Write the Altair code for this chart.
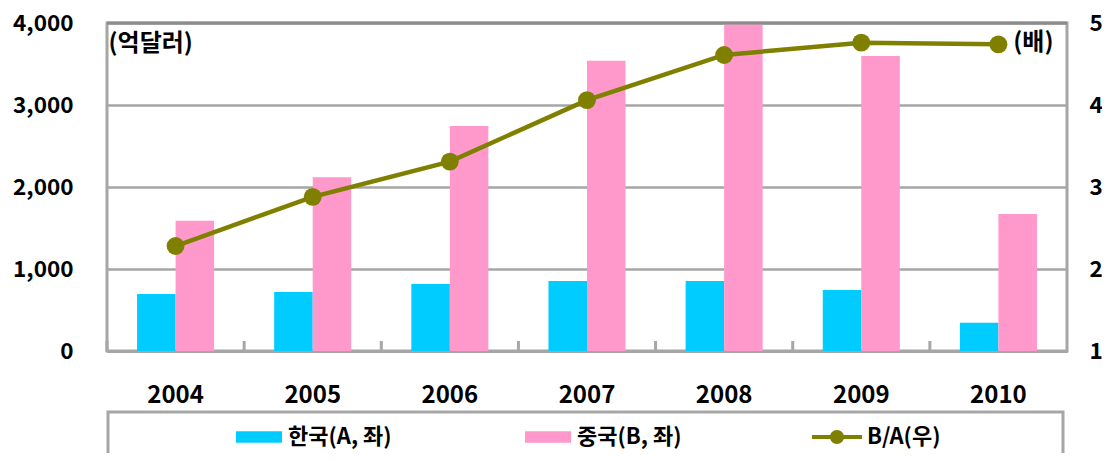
import altair as alt
import pandas as pd

years = ["2004", "2005", "2006", "2007", "2008", "2009", "2010"]
korea = [695, 720, 817, 854, 854, 744, 345]
china = [1589, 2118, 2744, 3540, 3985, 3598, 1671]
ratio = [2.28, 2.88, 3.31, 4.06, 4.61, 4.76, 4.74]
series_names = ["한국(A, 좌)", "중국(B, 좌)"]
ratio_name = "B/A(우)"
left_ticks = [0, 1000, 2000, 3000, 4000]
right_ticks = [1, 2, 3, 4, 5]

bars_df = pd.DataFrame({
    "year": years * 2,
    "series": [series_names[0]] * len(years) + [series_names[1]] * len(years),
    "value": korea + china,
})
ratio_df = pd.DataFrame({"year": years, "ratio": ratio, "name": ratio_name})
year_df = pd.DataFrame({"year": years})
frame_df = pd.DataFrame({"k": [0]})

FONT = "Noto Sans CJK KR"
GRID = "#a6a6a6"
W, H = 960, 328
AXY = 22.5
AXX = 24
TT = 24
LG = 22

xscale = alt.Scale(domain=years, paddingInner=0, paddingOuter=0)
x_axis = alt.Axis(title=None, labelAngle=0, ticks=False, domain=True, domainColor=GRID,
                  domainWidth=3, grid=False, labelFont=FONT, labelFontSize=AXX,
                  labelFontWeight="bold", labelColor="black", labelPadding=32)

bars = alt.Chart(bars_df).mark_bar().encode(
    x=alt.X("year:N", scale=xscale, axis=x_axis),
    xOffset=alt.XOffset("series:N", scale=alt.Scale(domain=series_names, paddingInner=0, paddingOuter=0.78)),
    y=alt.Y("value:Q", scale=alt.Scale(domain=[0, 4000], nice=False),
            axis=alt.Axis(title="(억달러)", values=left_ticks, format=",d", orient="left",
                          titleAngle=0, titleX=1, titleY=20, titleAlign="left",
                          titleBaseline="middle", titleFont=FONT, titleFontSize=TT,
                          titleFontWeight="bold", titleColor="black",
                          grid=True, gridColor=GRID, gridWidth=2.5, ticks=False, domain=False,
                          labelPadding=34, labelFont=FONT, labelFontSize=AXY,
                          labelFontWeight="bold", labelColor="black")),
    color=alt.Color("series:N", scale=alt.Scale(domain=series_names, range=["#00ccff", "#ff99cc"]),
                    legend=alt.Legend(orient="none", legendX=129, legendY=391, direction="horizontal",
                                      title=None, symbolType="M-1,-0.25H1V0.25H-1Z", symbolSize=2116,
                                      symbolStrokeWidth=0, symbolOpacity=1, labelFont=FONT, labelFontSize=LG,
                                      labelFontWeight="bold", labelColor="black", columnPadding=133,
                                      labelOffset=6, padding=0, labelLimit=300)),
)

ticks = alt.Chart(year_df).mark_rule(color=GRID, strokeWidth=3).encode(
    x=alt.X("year:N", scale=xscale, bandPosition=0, axis=x_axis),
    y=alt.value(H - 10),
    y2=alt.value(H),
)

y_right = alt.Y("ratio:Q", scale=alt.Scale(domain=[1, 5], nice=False),
                axis=alt.Axis(orient="right", values=right_ticks, title="(배)", titleAngle=0,
                              titleX=-14, titleY=19, titleAlign="right", titleBaseline="middle",
                              titleFont=FONT, titleFontSize=TT, titleFontWeight="bold",
                              titleColor="black", grid=False, ticks=False, domain=False,
                              labelPadding=22, labelFont=FONT, labelFontSize=AXY,
                              labelFontWeight="bold", labelColor="black"))

line = alt.Chart(ratio_df).mark_line(color="#808000", strokeWidth=4.5).encode(
    x=alt.X("year:N", scale=xscale, axis=x_axis),
    y=y_right,
)
pts = alt.Chart(ratio_df).mark_circle(size=320, opacity=1, strokeWidth=0).encode(
    x=alt.X("year:N", scale=xscale, axis=x_axis),
    y=y_right,
    fill=alt.Fill("name:N", scale=alt.Scale(domain=[ratio_name], range=["#808000"]),
                  legend=alt.Legend(orient="none", legendX=705, legendY=389, title=None,
                                    symbolType="M-1,-0.08H1V0.08H-1Z M0.28,0A0.28,0.28 0 1,1 -0.28,0A0.28,0.28 0 1,1 0.28,0Z",
                                    symbolSize=2500, symbolStrokeWidth=0, symbolOpacity=1,
                                    labelFont=FONT, labelFontSize=LG, labelFontWeight="bold",
                                    labelColor="black", labelOffset=5, padding=0, labelLimit=300)),
)

top_border = alt.Chart(frame_df).mark_rule(color="#8c8c8c", strokeWidth=3).encode(
    x=alt.value(0), x2=alt.value(W), y=alt.value(0),
)

frame = alt.Chart(frame_df).mark_rect(fillOpacity=0, stroke=GRID, strokeWidth=3).encode(
    x=alt.value(1), x2=alt.value(956), y=alt.value(389), y2=alt.value(470),
)

chart = alt.layer(bars, ticks, alt.layer(line, pts), top_border, frame).resolve_scale(
    y="independent", color="independent", fill="independent"
).properties(
    width=W, height=H,
    autosize=alt.AutoSizeParams(type="none"),
    padding={"left": 99, "top": 15, "right": 35, "bottom": 102},
).configure_view(stroke=GRID, strokeWidth=3)

chart.save("out.html", embed_options={"renderer": "svg", "actions": False})
